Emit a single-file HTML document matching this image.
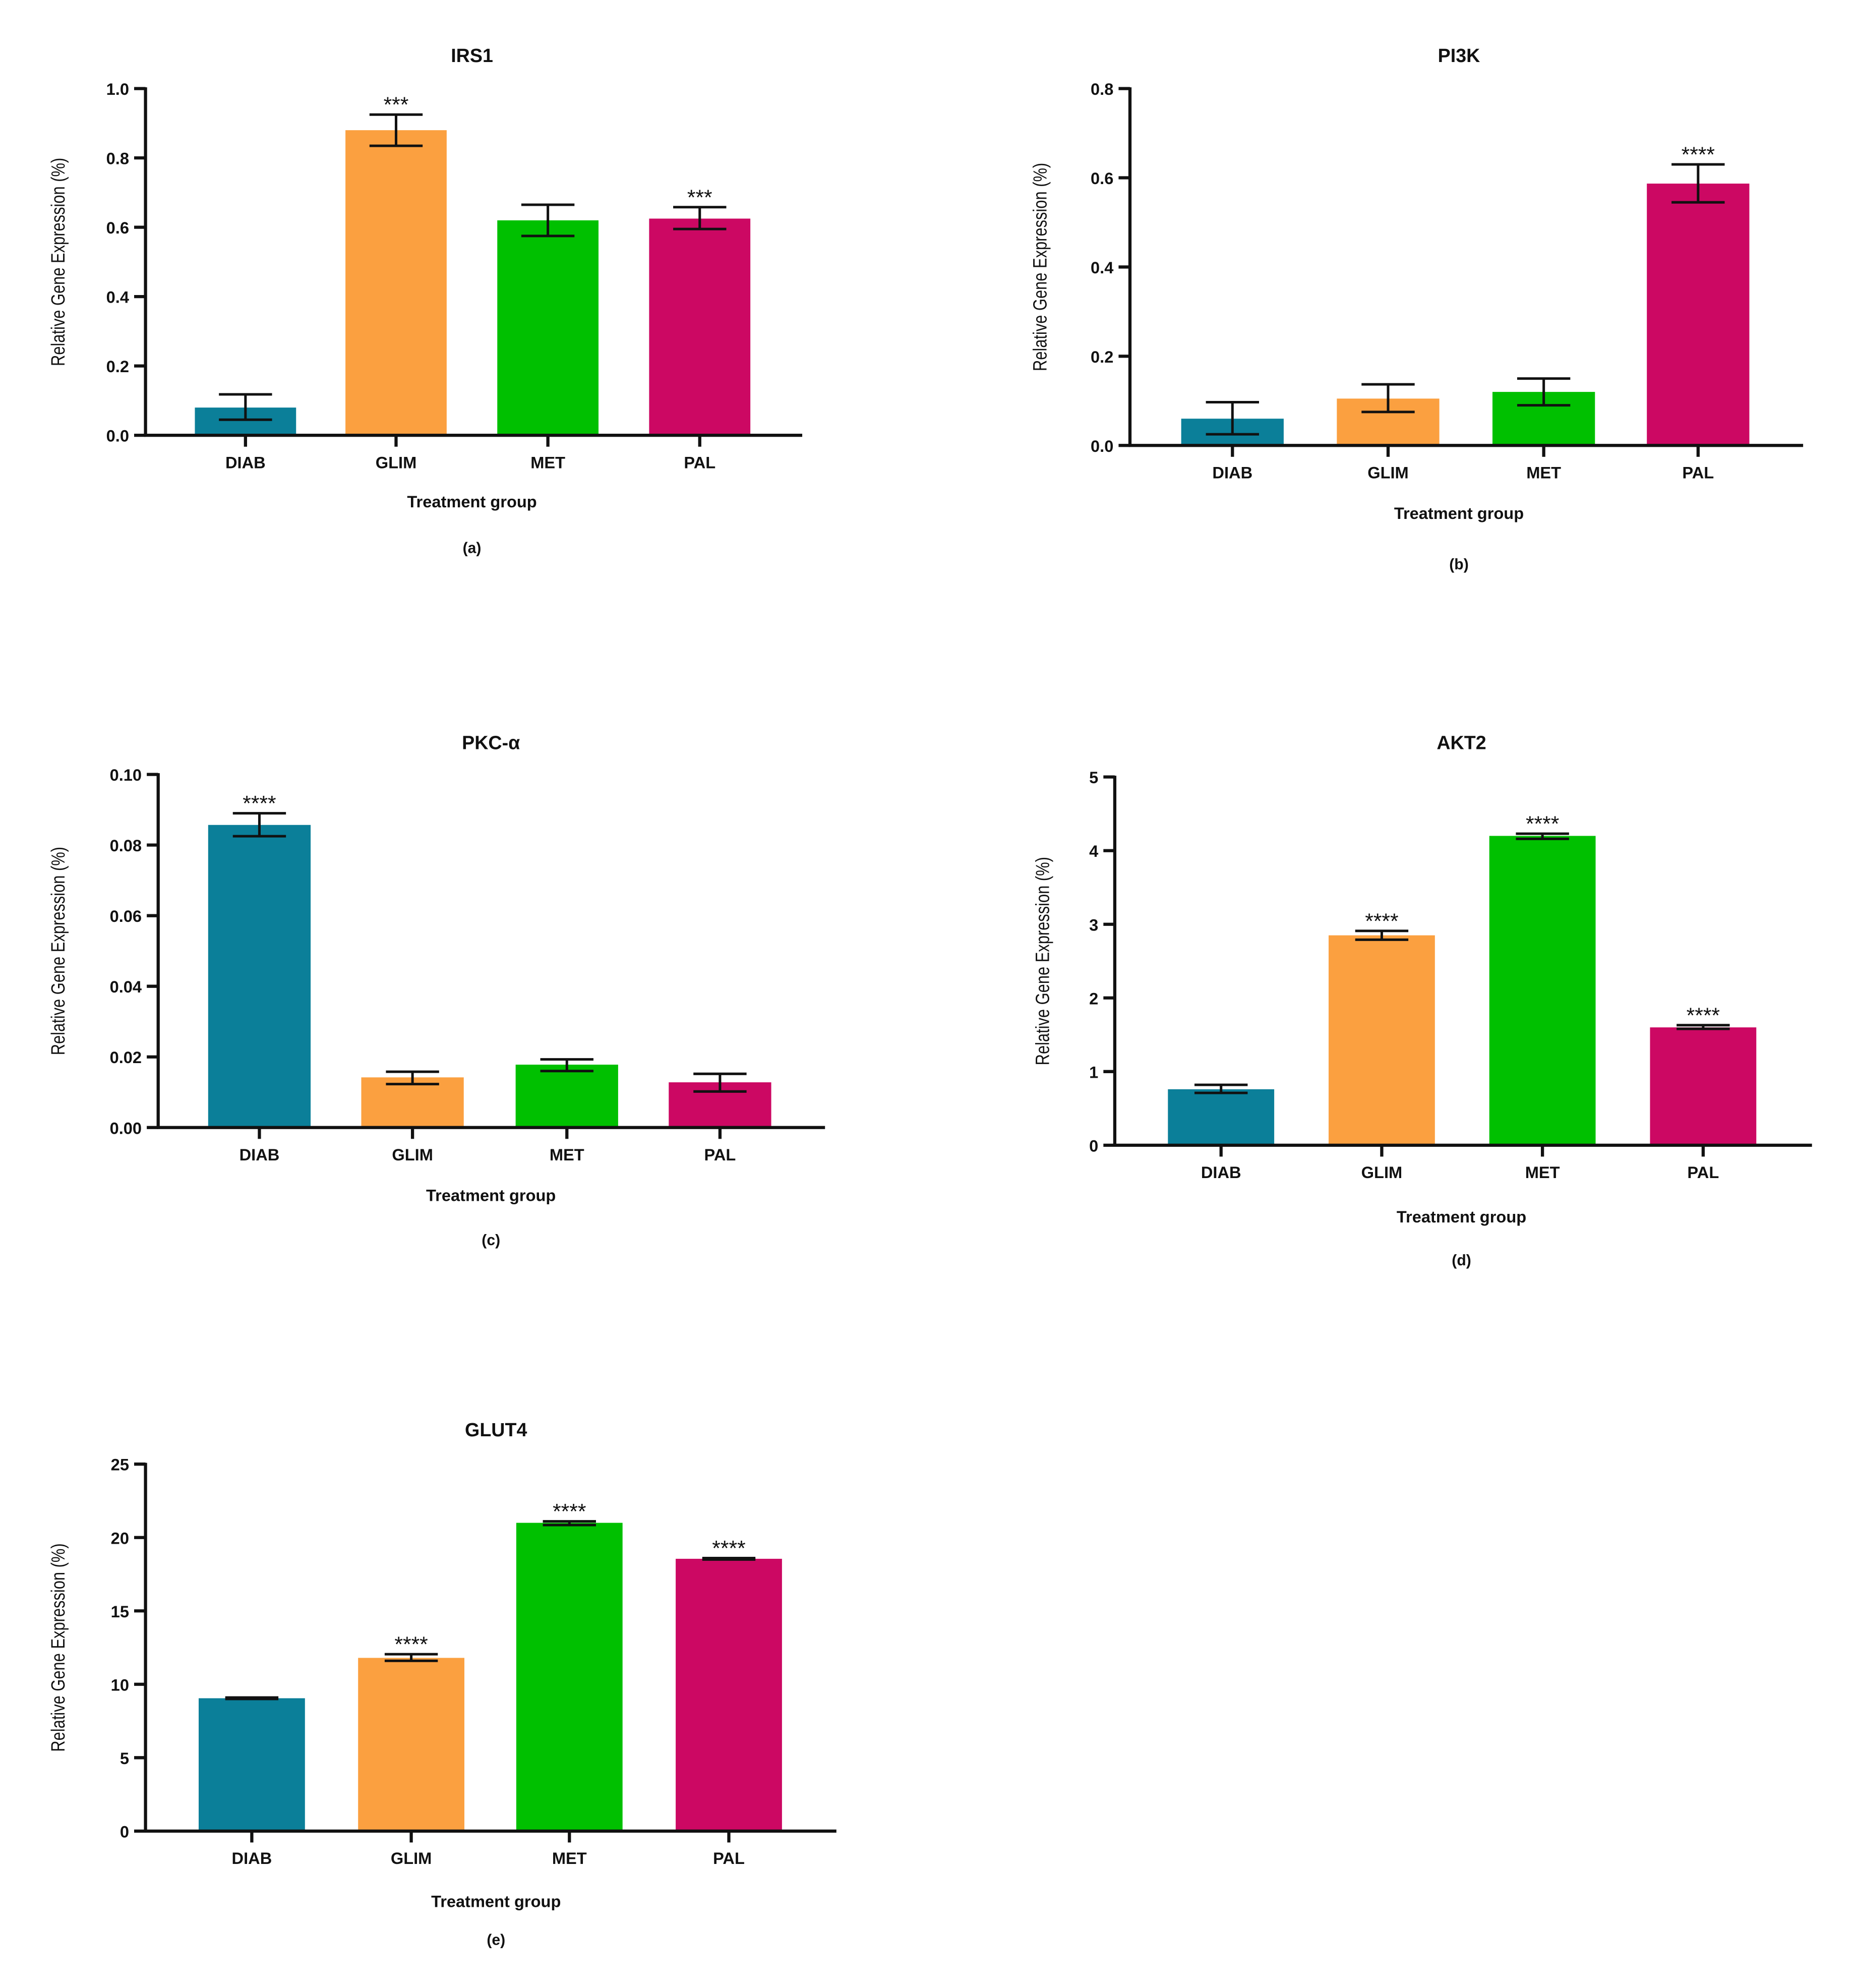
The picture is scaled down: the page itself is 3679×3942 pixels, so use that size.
<!DOCTYPE html>
<html><head><meta charset="utf-8"><style>
html,body{margin:0;padding:0;background:#fff;}
svg{display:block;}
text{font-family:"Liberation Sans",Arial,sans-serif;fill:#111;}
</style></head>
<body>
<svg id="fig" width="3679" height="3942" viewBox="0 0 1466 1571" preserveAspectRatio="none" xmlns="http://www.w3.org/2000/svg"></svg>
<script>
const categories = ["DIAB","GLIM","MET","PAL"];
const colors = ["#0b7f99","#fba040","#00c000","#cc0863"];
// Panel data
const irs1Values = [0.08, 0.88, 0.62, 0.625];
const irs1ErrLow = [0.045, 0.835, 0.575, 0.595];
const irs1ErrHigh = [0.118, 0.925, 0.665, 0.658];
const irs1Stars = ["", "***", "", "***"];
const irs1Ticks = [0, 0.2, 0.4, 0.6, 0.8, 1.0];
const irs1TickLabels = ["0.0","0.2","0.4","0.6","0.8","1.0"];

const pi3kValues = [0.06, 0.105, 0.12, 0.587];
const pi3kErrLow = [0.025, 0.075, 0.09, 0.545];
const pi3kErrHigh = [0.097, 0.137, 0.15, 0.63];
const pi3kStars = ["", "", "", "****"];
const pi3kTicks = [0, 0.2, 0.4, 0.6, 0.8];
const pi3kTickLabels = ["0.0","0.2","0.4","0.6","0.8"];

const pkcValues = [0.0857, 0.0142, 0.0178, 0.0128];
const pkcErrLow = [0.0825, 0.0123, 0.016, 0.0102];
const pkcErrHigh = [0.089, 0.0158, 0.0193, 0.0152];
const pkcStars = ["****", "", "", ""];
const pkcTicks = [0, 0.02, 0.04, 0.06, 0.08, 0.10];
const pkcTickLabels = ["0.00","0.02","0.04","0.06","0.08","0.10"];

const akt2Values = [0.76, 2.85, 4.2, 1.6];
const akt2ErrLow = [0.71, 2.79, 4.16, 1.58];
const akt2ErrHigh = [0.82, 2.91, 4.23, 1.63];
const akt2Stars = ["", "****", "****", "****"];
const akt2Ticks = [0, 1, 2, 3, 4, 5];
const akt2TickLabels = ["0","1","2","3","4","5"];

const glut4Values = [9.05, 11.8, 21.0, 18.55];
const glut4ErrLow = [9.0, 11.6, 20.85, 18.5];
const glut4ErrHigh = [9.1, 12.05, 21.1, 18.6];
const glut4Stars = ["", "****", "****", "****"];
const glut4Ticks = [0, 5, 10, 15, 20, 25];
const glut4TickLabels = ["0","5","10","15","20","25"];

const NS = "http://www.w3.org/2000/svg";
const fig = document.getElementById('fig');
function mk(tag, attrs, parent, txt){
  const e = document.createElementNS(NS, tag);
  for (const k in attrs) e.setAttribute(k, attrs[k]);
  if (txt !== undefined) e.textContent = txt;
  parent.appendChild(e);
  return e;
}
function panel(id, L){
  const g = mk('g', {}, fig);
  
  
  const max = L.ticks[L.ticks.length-1];
  const y = v => L.y0 - (v / max) * (L.y0 - L.yTop);
  const t = mk('text', {x:L.titleX, y:L.titleY, 'text-anchor':'middle','font-size':15,'font-weight':'bold'}, g, L.title);
  
  
  L.values.forEach((v,i)=>{
    const cx = L.centers[i];
    const r = mk('rect', {x:cx-L.bw/2, y:y(v), width:L.bw, height:L.y0-y(v), fill:colors[i]}, g);
    
    
    const eg = mk('g', {stroke:'#111','stroke-width':2}, g);
    
    
    const lo = y(L.lo[i]), hi = y(L.hi[i]), cw = 21;
    mk('line', {x1:cx, x2:cx, y1:lo, y2:hi}, eg);
    mk('line', {x1:cx-cw, x2:cx+cw, y1:lo, y2:lo}, eg);
    mk('line', {x1:cx-cw, x2:cx+cw, y1:hi, y2:hi}, eg);
    if (L.stars[i]) {
      const s = mk('text', {x:cx, y:hi-2, 'text-anchor':'middle','font-size':17}, g, L.stars[i]);
      
      
    }
    const xl = mk('text', {x:cx, y:L.y0+26, 'text-anchor':'middle','font-size':13,'font-weight':'bold'}, g, categories[i]);
    
    
    mk('line', {x1:cx, x2:cx, y1:L.y0, y2:L.y0+9, stroke:'#111','stroke-width':2.5}, g);
  });
  const ax = mk('g', {stroke:'#111','stroke-width':2.5,fill:'none'}, g);
  
  
  mk('line', {x1:L.x0, x2:L.x0, y1:L.yTop-1, y2:L.y0+1}, ax);
  mk('line', {x1:L.x0-1, x2:L.xEnd, y1:L.y0, y2:L.y0}, ax);
  L.ticks.forEach((tv,i)=>{
    mk('line', {x1:L.x0-9, x2:L.x0, y1:y(tv), y2:y(tv)}, ax);
    const tl = mk('text', {x:L.x0-13, y:y(tv)+5, 'text-anchor':'end','font-size':13,'font-weight':'bold'}, g, L.tickLabels[i]);
    
    
  });
  const midY = (L.y0 + L.yTop)/2;
  const yt = mk('text', {x:0, y:0, 'text-anchor':'middle','font-size':15, transform:`translate(${L.ytX},${midY}) rotate(-90) scale(0.82,1)`}, g, 'Relative Gene Expression (%)');
  
  
  const xt = mk('text', {x:L.titleX, y:L.xtY, 'text-anchor':'middle','font-size':13,'font-weight':'bold'}, g, 'Treatment group');
  
  
  const cp = mk('text', {x:L.titleX, y:L.capY, 'text-anchor':'middle','font-size':12,'font-weight':'bold'}, g, L.caption);
  
  
}
panel('irs1', {title:'IRS1', caption:'(a)', titleX:373, titleY:49, x0:115, xEnd:634, y0:344, yTop:70,
  centers:[194,313,433,553], bw:80, values:irs1Values, lo:irs1ErrLow, hi:irs1ErrHigh, stars:irs1Stars,
  ticks:irs1Ticks, tickLabels:irs1TickLabels, ytX:51, xtY:401, capY:437});
panel('pi3k', {title:'PI3K', caption:'(b)', titleX:1153, titleY:49, x0:893, xEnd:1425, y0:352, yTop:70,
  centers:[974,1097,1220,1342], bw:81, values:pi3kValues, lo:pi3kErrLow, hi:pi3kErrHigh, stars:pi3kStars,
  ticks:pi3kTicks, tickLabels:pi3kTickLabels, ytX:827, xtY:410, capY:450});
panel('pkc', {title:'PKC-α', caption:'(c)', titleX:388, titleY:592, x0:125, xEnd:652, y0:891, yTop:612,
  centers:[205,326,448,569], bw:81, values:pkcValues, lo:pkcErrLow, hi:pkcErrHigh, stars:pkcStars,
  ticks:pkcTicks, tickLabels:pkcTickLabels, ytX:51, xtY:949, capY:984});
panel('akt2', {title:'AKT2', caption:'(d)', titleX:1155, titleY:592, x0:881, xEnd:1432, y0:905, yTop:614,
  centers:[965,1092,1219,1346], bw:84, values:akt2Values, lo:akt2ErrLow, hi:akt2ErrHigh, stars:akt2Stars,
  ticks:akt2Ticks, tickLabels:akt2TickLabels, ytX:829, xtY:966, capY:1000});
panel('glut4', {title:'GLUT4', caption:'(e)', titleX:392, titleY:1135, x0:115, xEnd:661, y0:1447, yTop:1157,
  centers:[199,325,450,576], bw:84, values:glut4Values, lo:glut4ErrLow, hi:glut4ErrHigh, stars:glut4Stars,
  ticks:glut4Ticks, tickLabels:glut4TickLabels, ytX:51, xtY:1507, capY:1537});
</script>
</body></html>
